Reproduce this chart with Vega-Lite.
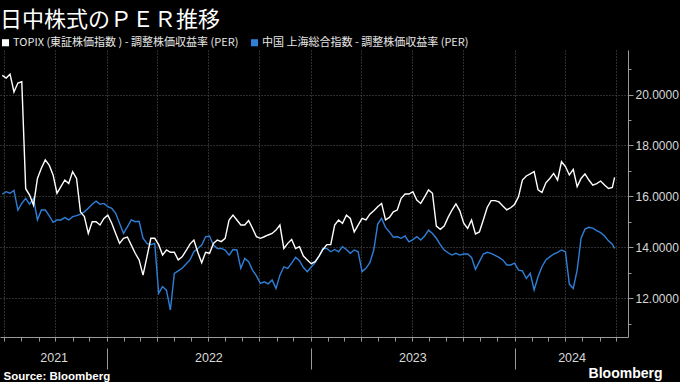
{
 "$schema": "https://vega.github.io/schema/vega-lite/v6.json",
 "width": 628,
 "height": 287,
 "autosize": {"type": "none"},
 "padding": {"left": 0, "top": 50, "right": 52, "bottom": 45},
 "background": "#000000",
 "config": {"view": {"stroke": null}, "font": "Noto Sans CJK JP"},
 "title": {"text": "日中株式のＰＥＲ推移", "anchor": "start", "frame": "group", "fontSize": 22, "fontWeight": "normal", "color": "#ffffff", "font": "Noto Sans CJK JP", "offset": 5},
 "datasets": {
  "pe": [
   {"d":"2021-06-28","t":20.75,"c":16.08},{"d":"2021-07-05","t":20.65,"c":16.18},{"d":"2021-07-12","t":20.8,"c":16.12},{"d":"2021-07-19","t":20.1,"c":16.23},{"d":"2021-07-26","t":20.45,"c":15.46},{"d":"2021-08-02","t":20.5,"c":15.72},
   {"d":"2021-08-09","t":16.3,"c":15.92},{"d":"2021-08-16","t":16.05,"c":15.69},{"d":"2021-08-23","t":15.65,"c":15.92},{"d":"2021-08-30","t":16.7,"c":15.07},{"d":"2021-09-06","t":17.1,"c":15.46},{"d":"2021-09-13","t":17.43,"c":15.46},
   {"d":"2021-09-20","t":17.23,"c":15.24},{"d":"2021-09-27","t":16.84,"c":14.98},{"d":"2021-10-04","t":16.12,"c":15.07},{"d":"2021-10-11","t":16.38,"c":15.07},{"d":"2021-10-18","t":16.64,"c":15.16},{"d":"2021-10-25","t":16.5,"c":15.07},
   {"d":"2021-11-01","t":16.97,"c":15.2},{"d":"2021-11-08","t":16.7,"c":15.24},{"d":"2021-11-15","t":15.39,"c":15.3},{"d":"2021-11-22","t":15.2,"c":15.39},{"d":"2021-11-29","t":14.54,"c":15.53},{"d":"2021-12-06","t":15.0,"c":15.69},
   {"d":"2021-12-13","t":15.0,"c":15.81},{"d":"2021-12-20","t":14.87,"c":15.69},{"d":"2021-12-27","t":15.13,"c":15.72},{"d":"2022-01-03","t":15.26,"c":15.59},{"d":"2022-01-10","t":14.94,"c":15.53},{"d":"2022-01-17","t":14.54,"c":15.33},
   {"d":"2022-01-24","t":14.15,"c":14.94},{"d":"2022-01-31","t":14.35,"c":14.54},{"d":"2022-02-07","t":14.4,"c":14.8},{"d":"2022-02-14","t":14.08,"c":15.07},{"d":"2022-02-21","t":13.76,"c":15.0},{"d":"2022-02-28","t":13.5,"c":15.02},
   {"d":"2022-03-07","t":12.9,"c":14.35},{"d":"2022-03-14","t":13.62,"c":14.15},{"d":"2022-03-21","t":14.35,"c":14.1},{"d":"2022-03-28","t":14.35,"c":14.15},{"d":"2022-04-04","t":14.1,"c":12.19},{"d":"2022-04-11","t":13.69,"c":12.45},
   {"d":"2022-04-18","t":13.89,"c":12.3},{"d":"2022-04-25","t":13.8,"c":11.53},{"d":"2022-05-02","t":13.8,"c":12.97},{"d":"2022-05-09","t":13.5,"c":13.07},{"d":"2022-05-16","t":13.62,"c":13.17},{"d":"2022-05-23","t":13.86,"c":13.34},
   {"d":"2022-05-30","t":14.12,"c":13.5},{"d":"2022-06-06","t":14.28,"c":13.82},{"d":"2022-06-13","t":13.8,"c":13.95},{"d":"2022-06-20","t":13.39,"c":14.08},{"d":"2022-06-27","t":13.8,"c":14.41},{"d":"2022-07-04","t":13.76,"c":14.44},
   {"d":"2022-07-11","t":14.15,"c":14.08},{"d":"2022-07-18","t":14.28,"c":13.95},{"d":"2022-07-25","t":14.22,"c":13.95},{"d":"2022-08-01","t":14.35,"c":13.89},{"d":"2022-08-08","t":15.07,"c":13.69},{"d":"2022-08-15","t":15.26,"c":13.91},
   {"d":"2022-08-22","t":15.07,"c":13.89},{"d":"2022-08-29","t":14.87,"c":13.17},{"d":"2022-09-05","t":14.87,"c":13.56},{"d":"2022-09-12","t":15.05,"c":13.43},{"d":"2022-09-19","t":14.74,"c":13.1},{"d":"2022-09-26","t":14.41,"c":12.87},
   {"d":"2022-10-03","t":14.35,"c":12.58},{"d":"2022-10-10","t":14.41,"c":12.64},{"d":"2022-10-17","t":14.48,"c":12.56},{"d":"2022-10-24","t":14.54,"c":12.71},{"d":"2022-10-31","t":14.67,"c":12.38},{"d":"2022-11-07","t":14.87,"c":12.9},
   {"d":"2022-11-14","t":13.95,"c":13.23},{"d":"2022-11-21","t":14.15,"c":13.17},{"d":"2022-11-28","t":14.3,"c":13.37},{"d":"2022-12-05","t":13.95,"c":13.6},{"d":"2022-12-12","t":14.02,"c":13.47},{"d":"2022-12-19","t":13.65,"c":13.2},
   {"d":"2022-12-26","t":13.5,"c":13.04},{"d":"2023-01-02","t":13.35,"c":13.22},{"d":"2023-01-09","t":13.43,"c":13.39},{"d":"2023-01-16","t":13.65,"c":13.65},{"d":"2023-01-23","t":13.91,"c":13.95},{"d":"2023-01-30","t":14.1,"c":13.95},
   {"d":"2023-02-06","t":14.1,"c":13.82},{"d":"2023-02-13","t":14.87,"c":13.91},{"d":"2023-02-20","t":15.07,"c":13.82},{"d":"2023-02-27","t":14.94,"c":14.02},{"d":"2023-03-06","t":15.26,"c":13.91},{"d":"2023-03-13","t":15.13,"c":13.76},
   {"d":"2023-03-20","t":14.6,"c":13.89},{"d":"2023-03-27","t":14.87,"c":13.82},{"d":"2023-04-03","t":15.13,"c":13.04},{"d":"2023-04-10","t":15.07,"c":13.17},{"d":"2023-04-17","t":15.3,"c":13.39},{"d":"2023-04-24","t":15.43,"c":13.89},
   {"d":"2023-05-01","t":15.59,"c":14.91},{"d":"2023-05-08","t":15.72,"c":15.13},{"d":"2023-05-15","t":15.07,"c":14.78},{"d":"2023-05-22","t":15.17,"c":14.6},{"d":"2023-05-29","t":15.39,"c":14.39},{"d":"2023-06-05","t":15.46,"c":14.41},
   {"d":"2023-06-12","t":15.92,"c":14.35},{"d":"2023-06-19","t":16.09,"c":14.44},{"d":"2023-06-26","t":16.09,"c":14.21},{"d":"2023-07-03","t":16.18,"c":14.3},{"d":"2023-07-10","t":15.85,"c":14.41},{"d":"2023-07-17","t":15.72,"c":14.28},
   {"d":"2023-07-24","t":15.98,"c":14.44},{"d":"2023-07-31","t":16.25,"c":14.67},{"d":"2023-08-07","t":16.12,"c":14.54},{"d":"2023-08-14","t":14.83,"c":14.35},{"d":"2023-08-21","t":14.7,"c":14.1},{"d":"2023-08-28","t":14.83,"c":13.89},
   {"d":"2023-09-04","t":15.17,"c":13.78},{"d":"2023-09-11","t":15.46,"c":13.69},{"d":"2023-09-18","t":15.7,"c":13.76},{"d":"2023-09-25","t":15.43,"c":13.69},{"d":"2023-10-02","t":14.94,"c":13.73},{"d":"2023-10-09","t":14.74,"c":13.73},
   {"d":"2023-10-16","t":15.07,"c":13.6},{"d":"2023-10-23","t":14.52,"c":13.13},{"d":"2023-10-30","t":14.6,"c":13.43},{"d":"2023-11-06","t":15.07,"c":13.73},{"d":"2023-11-13","t":15.56,"c":13.8},{"d":"2023-11-20","t":15.83,"c":13.76},
   {"d":"2023-11-27","t":15.83,"c":13.68},{"d":"2023-12-04","t":15.78,"c":13.6},{"d":"2023-12-11","t":15.62,"c":13.5},{"d":"2023-12-18","t":15.47,"c":13.3},{"d":"2023-12-25","t":15.55,"c":13.3},{"d":"2024-01-01","t":15.68,"c":13.37},
   {"d":"2024-01-08","t":15.98,"c":13.1},{"d":"2024-01-15","t":16.64,"c":13.07},{"d":"2024-01-22","t":16.8,"c":12.77},{"d":"2024-01-29","t":16.88,"c":12.97},{"d":"2024-02-05","t":16.97,"c":12.32},{"d":"2024-02-12","t":16.25,"c":12.84},
   {"d":"2024-02-19","t":16.15,"c":13.23},{"d":"2024-02-26","t":16.53,"c":13.5},{"d":"2024-03-04","t":16.7,"c":13.62},{"d":"2024-03-11","t":16.9,"c":13.73},{"d":"2024-03-18","t":16.64,"c":13.8},{"d":"2024-03-25","t":17.36,"c":13.89},
   {"d":"2024-04-01","t":17.17,"c":13.82},{"d":"2024-04-08","t":16.84,"c":12.55},{"d":"2024-04-15","t":17.06,"c":12.38},{"d":"2024-04-22","t":16.38,"c":13.1},{"d":"2024-04-29","t":16.7,"c":14.35},{"d":"2024-05-06","t":16.88,"c":14.71},
   {"d":"2024-05-13","t":16.64,"c":14.78},{"d":"2024-05-20","t":16.44,"c":14.75},{"d":"2024-05-27","t":16.5,"c":14.65},{"d":"2024-06-03","t":16.6,"c":14.57},{"d":"2024-06-10","t":16.44,"c":14.44},{"d":"2024-06-17","t":16.31,"c":14.25},
   {"d":"2024-06-24","t":16.35,"c":14.12},{"d":"2024-06-28","t":16.74,"c":13.95}
  ],
  "marker": [{"d": "2022-07-01"}]
 },
 "layer": [
  {
   "data": {"name": "pe"},
   "transform": [{"fold": ["c", "t"], "as": ["series", "value"]}],
   "mark": {"type": "line", "strokeWidth": 1.4},
   "encoding": {
    "x": {"field": "d", "type": "temporal",
     "scale": {"domain": [{"year": 2021, "month": 6, "date": 24}, {"year": 2024, "month": 7, "date": 22}]},
     "axis": {"orient": "bottom", "title": null, "labels": false, "tickCount": {"interval": "month", "step": 1}, "tickSize": 4, "tickColor": "#9a9a9a", "domainColor": "#9a9a9a", "grid": true, "gridColor": "#5a5a5a", "gridDash": [1, 2], "gridOpacity": {"condition": {"test": "month(datum.value) % 3 == 0", "value": 1}, "value": 0}}},
    "y": {"field": "value", "type": "quantitative",
     "scale": {"domain": [10.47, 21.75], "zero": false, "nice": false},
     "axis": {"orient": "right", "title": null, "values": [11, 12, 13, 14, 15, 16, 17, 18, 19, 20, 21], "labelExpr": "datum.value % 2 == 0 ? format(datum.value, '.4f') : ''", "domainColor": "#9a9a9a", "tickColor": "#9a9a9a", "tickSize": {"condition": {"test": "datum.value % 2 == 0", "value": 5}, "value": 3}, "labelColor": "#d9d9d9", "labelFont": "Liberation Sans", "labelFontSize": 12, "labelPadding": 2, "labelOverlap": false, "grid": true, "gridColor": "#5a5a5a", "gridDash": [1, 2], "gridOpacity": {"condition": {"test": "datum.value % 2 == 0", "value": 1}, "value": 0}}},
    "color": {"field": "series", "type": "nominal",
     "scale": {"domain": ["t", "c"], "range": ["#ffffff", "#2f7fd8"]},
     "legend": {"orient": "top", "direction": "horizontal", "title": null, "symbolType": "square", "symbolSize": 50, "symbolStrokeWidth": 0, "labelColor": "#e6e6e6", "labelFont": "Noto Sans CJK JP", "labelFontSize": 11, "labelLimit": 400, "labelOffset": 2, "columnPadding": 10, "offset": 2, "padding": 0,
      "labelExpr": "datum.value == 't' ? 'TOPIX (東証株価指数 ) - 調整株価収益率 (PER)' : '中国 上海総合指数  - 調整株価収益率 (PER)'",
      "encode": {"symbols": {"update": {"fill": {"scale": "color", "field": "value"}}}}}}
   }
  },
  {
   "data": {"name": "marker"},
   "mark": {"type": "rule", "opacity": 0},
   "encoding": {
    "x": {"field": "d", "type": "temporal",
     "scale": {"domain": [{"year": 2021, "month": 6, "date": 24}, {"year": 2024, "month": 7, "date": 22}]},
     "axis": {"orient": "bottom", "values": [{"year": 2022, "month": 1, "date": 1}, {"year": 2023, "month": 1, "date": 1}, {"year": 2024, "month": 1, "date": 1}], "labels": false, "domain": false, "grid": false, "tickSize": 21, "tickColor": "#9a9a9a", "offset": 11,
      "title": "Bloomberg", "titleX": 662, "titleY": 25, "titleAlign": "right", "titleBaseline": "middle", "titleColor": "#ffffff", "titleFont": "Liberation Sans", "titleFontSize": 14, "titleFontWeight": "bold"}}
   }
  },
  {
   "data": {"name": "marker"},
   "mark": {"type": "rule", "opacity": 0},
   "encoding": {
    "x": {"field": "d", "type": "temporal",
     "scale": {"domain": [{"year": 2021, "month": 6, "date": 24}, {"year": 2024, "month": 7, "date": 22}]},
     "axis": {"orient": "bottom", "values": [{"year": 2021, "month": 9, "date": 28}, {"year": 2022, "month": 7, "date": 2}, {"year": 2023, "month": 7, "date": 2}, {"year": 2024, "month": 4, "date": 12}], "labelExpr": "timeFormat(datum.value, '%Y')", "ticks": false, "tickSize": 0, "domain": false, "grid": false, "labelPadding": 14, "labelColor": "#d9d9d9", "labelFont": "Liberation Sans", "labelFontSize": 12.5, "labelFlush": false, "labelOverlap": false,
      "title": "Source: Bloomberg", "titleX": 3, "titleY": 39, "titleAlign": "left", "titleBaseline": "middle", "titleColor": "#ffffff", "titleFont": "Liberation Sans", "titleFontSize": 11.5, "titleFontWeight": "bold"}}
   }
  }
 ],
 "resolve": {"axis": {"x": "independent"}}
}
